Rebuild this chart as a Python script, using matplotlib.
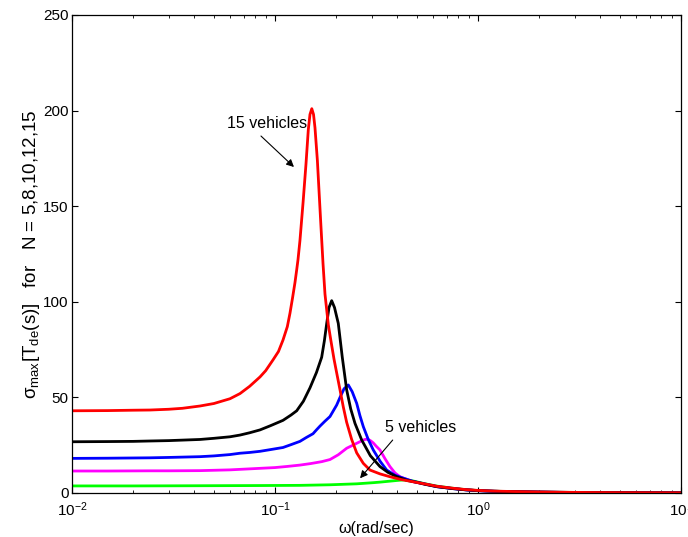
import matplotlib
matplotlib.use("Agg")
import matplotlib.pyplot as plt

plt.rcParams['font.family'] = ['Liberation Sans', 'DejaVu Sans']
plt.rcParams['mathtext.fontset'] = 'custom'
plt.rcParams['mathtext.rm'] = 'Liberation Sans'
plt.rcParams['mathtext.it'] = 'Liberation Sans:italic'
plt.rcParams['mathtext.default'] = 'regular'

# ---- data ----
omega_N15 = [0.01, 0.015, 0.02, 0.02422, 0.03, 0.035, 0.04271, 0.05, 0.06, 0.06723, 0.075,
             0.08435, 0.09, 0.09775, 0.104, 0.1095, 0.115, 0.1185, 0.122, 0.1254, 0.128,
             0.1298, 0.1327, 0.1375, 0.1421, 0.1459, 0.1487, 0.1518, 0.1548, 0.1574, 0.1617,
             0.1681, 0.1724, 0.1763, 0.1831, 0.1890, 0.1953, 0.2020, 0.2090, 0.2170, 0.2254,
             0.2386, 0.2526, 0.2723, 0.2938, 0.3290, 0.3685, 0.4200, 0.4785, 0.55, 0.6281,
             0.75, 0.87, 1.0, 1.2, 1.5, 2.0, 2.5, 3.5, 5.0, 7.0, 10.0]
sigma_N15 = [43, 43.1, 43.3, 43.4, 43.8, 44.3, 45.5, 46.8, 49.3, 52, 55.8,
             60.7, 64, 69.6, 74, 80, 87, 94, 102, 110, 117,
             122, 132, 152, 172, 190, 198, 201, 198, 191, 174,
             141, 120, 104, 88, 79, 70, 62, 54, 45, 37,
             28, 21, 15.5, 12, 10, 8.5, 7.0, 5.9, 4.7, 3.5,
             2.5, 1.8, 1.35, 1.0, 0.75, 0.52, 0.4, 0.27, 0.18, 0.13, 0.09]

omega_N12 = [0.01, 0.015, 0.02, 0.02422, 0.03, 0.04271, 0.05, 0.06, 0.06723, 0.075, 0.08435,
             0.095, 0.1095, 0.12, 0.1279, 0.138, 0.1487, 0.16, 0.1698, 0.175, 0.1798, 0.1845,
             0.1902, 0.1964, 0.2050, 0.2145, 0.2254, 0.2360, 0.2478, 0.2674, 0.2950, 0.3290,
             0.3600, 0.3977, 0.4500, 0.4989, 0.55, 0.6281, 0.75, 0.87, 1.0, 1.2, 1.5, 2.0,
             2.5, 3.5, 5.0, 7.0, 10.0]
sigma_N12 = [26.8, 26.9, 27.0, 27.2, 27.4, 28, 28.6, 29.4, 30.3, 31.5, 33,
             35.2, 38, 40.8, 43, 48, 55, 63, 71, 79.5, 88.7, 97,
             100.6, 97, 88.7, 71, 54, 44, 36.4, 27.7, 19.5, 13.8,
             10.8, 8.5, 6.5, 5.6, 4.5, 3.3, 2.3, 1.65, 1.25, 0.92, 0.68, 0.48,
             0.36, 0.24, 0.16, 0.11, 0.08]

omega_N10 = [0.01, 0.015, 0.02422, 0.03, 0.04271, 0.05, 0.06, 0.06723, 0.075, 0.08435, 0.095,
             0.1095, 0.12, 0.1327, 0.1425, 0.1539, 0.16, 0.1666, 0.176, 0.1866, 0.2013, 0.2090,
             0.2188, 0.2297, 0.2400, 0.2526, 0.2620, 0.2723, 0.2880, 0.3049, 0.3300, 0.3550,
             0.3900, 0.4271, 0.4785, 0.5181, 0.6281, 0.75, 0.87, 1.0, 1.2, 1.5, 2.0, 2.5,
             3.5, 5.0, 7.0, 10.0]
sigma_N10 = [18.1, 18.2, 18.4, 18.6, 19, 19.4, 20.1, 20.8, 21.2, 21.8, 22.7,
             23.8, 25.3, 27, 29, 31, 33, 35, 37.5, 40, 46, 50,
             54.5, 56.5, 53, 46.9, 40.5, 34.7, 28, 22.5, 16.5, 12,
             9.3, 7.8, 6.1, 5.3, 3.3, 2.3, 1.65, 1.2, 0.9, 0.66, 0.46, 0.35,
             0.23, 0.15, 0.1, 0.07]

omega_N8 = [0.01, 0.015, 0.02422, 0.03, 0.04271, 0.06, 0.08435, 0.1, 0.115, 0.1327, 0.15,
            0.17, 0.1866, 0.2050, 0.2254, 0.2526, 0.2723, 0.2800, 0.2882, 0.2960, 0.3049,
            0.3150, 0.3290, 0.3480, 0.3685, 0.3900, 0.4128, 0.4785, 0.55, 0.6281, 0.75,
            0.87, 1.0, 1.2, 1.5, 2.0, 2.5, 3.5, 5.0, 7.0, 10.0]
sigma_N8 = [11.5, 11.5, 11.6, 11.6, 11.7, 12.1, 12.9, 13.3, 13.9, 14.6, 15.4,
            16.4, 17.5, 20, 23.4, 26.0, 27.7, 28.1, 28, 27.3, 26.2,
            24.5, 22.5, 18, 13.8, 10.5, 8.5, 5.9, 4.6, 3.4, 2.4,
            1.7, 1.25, 0.92, 0.68, 0.48, 0.36, 0.24, 0.16, 0.11, 0.08]

omega_N5 = [0.01, 0.02, 0.04271, 0.08435, 0.1327, 0.1866, 0.2526, 0.3049, 0.3300, 0.3685,
            0.4128, 0.4300, 0.4500, 0.4785, 0.55, 0.6281, 0.75, 0.87, 1.0, 1.2, 1.5, 2.0,
            2.5, 3.5, 5.0, 7.0, 10.0]
sigma_N5 = [3.7, 3.7, 3.8, 3.9, 4.0, 4.3, 4.8, 5.4, 5.7, 6.2,
            6.7, 6.8, 6.7, 6.3, 4.8, 3.6, 2.5, 1.75, 1.3, 0.95, 0.7, 0.5,
            0.38, 0.25, 0.17, 0.12, 0.08]

series = [
    (omega_N5, sigma_N5, '#00ff00'),
    (omega_N8, sigma_N8, '#ff00ff'),
    (omega_N10, sigma_N10, '#0000ff'),
    (omega_N12, sigma_N12, '#000000'),
    (omega_N15, sigma_N15, '#ff0000'),
]

y_ticks = [0, 50, 100, 150, 200, 250]

fig = plt.figure(figsize=(6.88, 5.37), dpi=100)
ax = fig.add_axes([72/688, 1-493/537, (681-72)/688, (493-15)/537])

for w, s, c in series:
    ax.plot(w, s, color=c, lw=2.0, solid_joinstyle='round', solid_capstyle='round')

ax.set_xscale('log')
ax.set_xlim(1e-2, 1e1)
ax.set_ylim(0, 250)
ax.set_yticks(y_ticks)
ax.tick_params(which='both', direction='in', top=True, right=True, labelsize=11)
ax.tick_params(axis='x', pad=5)
ax.tick_params(axis='y', pad=2.5)
ax.tick_params(which='major', length=4, width=0.8)
ax.tick_params(which='minor', length=2.2, width=0.6)
for sp in ax.spines.values():
    sp.set_linewidth(0.9)

ax.set_xlabel('ω(rad/sec)', fontsize=11.5, labelpad=2)
ax.set_ylabel('σ$_{\\mathregular{max}}$[T$_{\\mathregular{de}}$(s)]   for   N = 5,8,10,12,15',
              fontsize=13.5, labelpad=1)

ax.text(0.0913, 193, '15 vehicles', fontsize=11.5, ha='center', va='center')
ax.annotate('', xy=(0.124, 170.5), xytext=(0.0853, 186.7),
            arrowprops=dict(arrowstyle='-|>', color='k', lw=0.8, mutation_scale=11,
                            shrinkA=0, shrinkB=0))
ax.text(0.521, 34.2, '5 vehicles', fontsize=11.5, ha='center', va='center')
ax.annotate('', xy=(0.2624, 7.7), xytext=(0.380, 27.7),
            arrowprops=dict(arrowstyle='-|>', color='k', lw=0.8, mutation_scale=11,
                            shrinkA=0, shrinkB=0))

fig.savefig('out.png', dpi=100)
